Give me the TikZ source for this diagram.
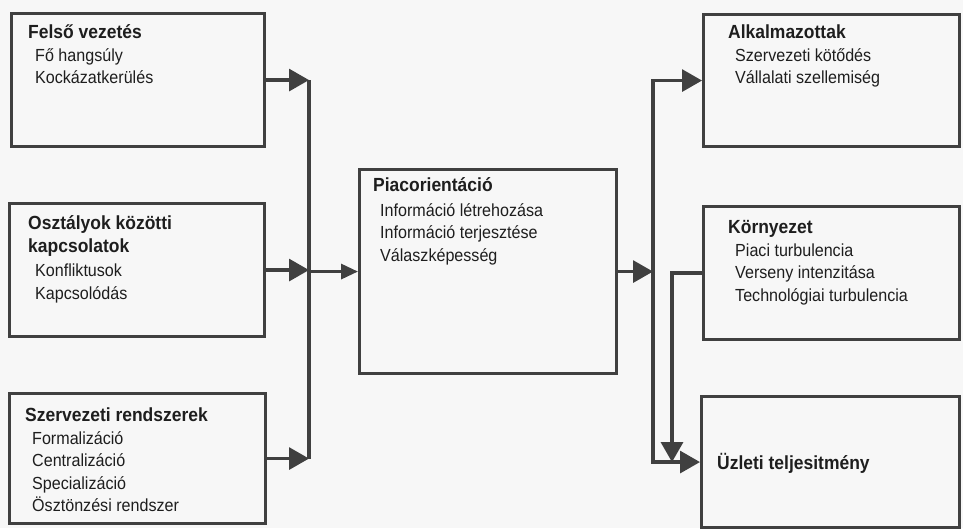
\documentclass[tikz,border=0pt]{standalone}
\usepackage{fontspec}
\setmainfont[FakeStretch=0.92]{Liberation Sans}
\usepackage{xcolor}
\usetikzlibrary{arrows.meta,positioning}
\definecolor{figline}{HTML}{404040}
\definecolor{figtext}{HTML}{1E1E1E}
\definecolor{figpaper}{HTML}{F7F7F7}
\tikzset{
  blockbox/.style={draw=figline,line width=3.1pt,rectangle,anchor=north west,inner sep=0pt},
  blocktext/.style={anchor=north west,inner sep=0pt,align=left,text=figtext,font=\fontsize{17.5}{22.5}\selectfont},
  busline/.style={draw=figline,line width=3.2pt},
  conn/.style={busline,-{Triangle[length=20pt,width=22pt]}},
  smallconn/.style={busline,-{Triangle[length=17pt,width=15pt]}},
}
\newcommand{\blocktitle}[1]{\rule{0pt}{18pt}{\fontsize{19}{22.5}\selectfont\bfseries #1}}
\newcommand{\blockitem}[1]{\hspace*{7pt}#1}

\begin{document}
\begin{tikzpicture}[x=1pt,y=-1pt]
    \fill[figpaper] (0,0) rectangle (963,528);
    \useasboundingbox (0,0) rectangle (963,528);
    % left column
    \node[blockbox,minimum width=253pt,minimum height=133pt] (fv) at (10,12) {};
    \node[blockbox,minimum width=255pt,minimum height=133pt] (ok) at (8,202) {};
    \node[blockbox,minimum width=256pt,minimum height=130pt] (sr) at (8,392) {};
    % middle
    \node[blockbox,minimum width=257pt,minimum height=204pt] (po) at (358,168) {};
    % right column
    \node[blockbox,minimum width=256pt,minimum height=132pt] (al) at (702,13) {};
    \node[blockbox,minimum width=256pt,minimum height=133pt] (ko) at (702,205) {};
    \node[blockbox,minimum width=258pt,minimum height=131pt] (uz) at (700,395) {};
    % texts
    \node[blocktext] (fvt) at ([shift={(18,8.5)}]fv.north west)
      {\blocktitle{Felső vezetés}\\ \blockitem{Fő hangsúly}\\ \blockitem{Kockázatkerülés}};
    \node[blocktext] (okt) at ([shift={(20,9.5)}]ok.north west)
      {\blocktitle{Osztályok közötti}\\ \blocktitle{kapcsolatok}\\[2pt] \blockitem{Konfliktusok}\\ \blockitem{Kapcsolódás}};
    \node[blocktext] (srt) at ([shift={(17,11.5)}]sr.north west)
      {\blocktitle{Szervezeti rendszerek}\\ \blockitem{Formalizáció}\\ \blockitem{Centralizáció}\\
       \blockitem{Specializáció}\\ \blockitem{Ösztönzési rendszer}};
    \node[blocktext] (pot) at ([shift={(15,5.5)}]po.north west)
      {\blocktitle{Piacorientáció}\\[2pt] \blockitem{Információ létrehozása}\\ \blockitem{Információ terjesztése}\\
       \blockitem{Válaszképesség}};
    \node[blocktext] (alt) at ([shift={(26,7.5)}]al.north west)
      {\blocktitle{Alkalmazottak}\\ \blockitem{Szervezeti kötődés}\\ \blockitem{Vállalati szellemiség}};
    \node[blocktext] (kot) at ([shift={(26,10.5)}]ko.north west)
      {\blocktitle{Környezet}\\ \blockitem{Piaci turbulencia}\\ \blockitem{Verseny intenzitása}\\
       \blockitem{Technológiai turbulencia}};
    \node[blocktext,anchor=west] (uzt) at ([shift={(17,1.5)}]uz.west)
      {{\fontsize{19}{22.5}\selectfont\bfseries Üzleti teljesitmény}};
    % connectors
    \coordinate (lb) at (309,0);
    \coordinate (rb) at (653,0);
    \coordinate (kb) at (672,0);
    \draw[busline] (fv.east -| lb) -- (sr.east -| lb);
    \draw[conn] (fv.east) -- (fv.east -| lb);
    \draw[conn] (ok.east) -- (ok.east -| lb);
    \draw[conn] (sr.east) -- (sr.east -| lb);
    \draw[smallconn] (po.west -| lb) -- (po.west);
    \draw[conn] (po.east) -- (po.east -| rb);
    \draw[conn] (po.east -| rb) |- (al.west);
    \draw[conn] (po.east -| rb) |- (uz.west);
    \draw[conn] (ko.west) -| (kb |- uz.west);
\end{tikzpicture}
\end{document}
